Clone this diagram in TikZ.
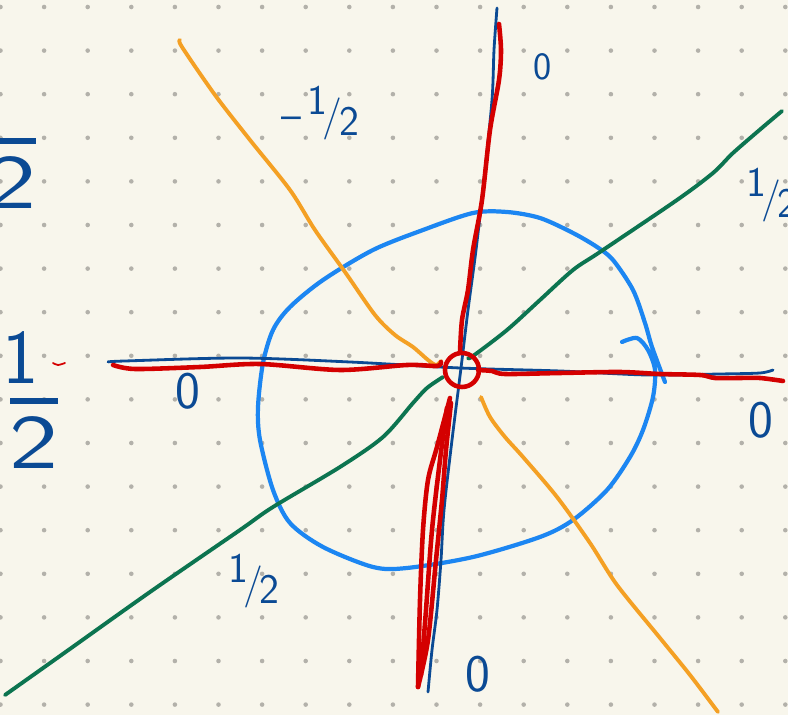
\documentclass[tikz,border=0pt]{standalone}
\usepackage{fontspec}
\usetikzlibrary{positioning}
\definecolor{paper}{HTML}{F8F6EC}
\definecolor{dotGray}{HTML}{B3B1AA}
\definecolor{inkBlue}{HTML}{0B4A94}
\definecolor{inkRed}{HTML}{D40000}
\definecolor{inkOrange}{HTML}{F4A024}
\definecolor{inkGreen}{HTML}{0C7450}
\definecolor{inkSky}{HTML}{1C86F2}
\newcommand{\hfrac}[2]{\raisebox{.35em}{#1}\kern-.12em/\kern-.08em\raisebox{-.15em}{#2}}
\newcommand{\vfrac}[3]{\shortstack{\makebox[0pt]{\kern#1 1}\\[5pt]\rule{0.62em}{0.08em}\\[4pt]\scalebox{1.35}[1]{#2}}}

\begin{document}
\begin{tikzpicture}[
  x=0.02cm, y=-0.02cm, line cap=round, line join=round,
  axis/.style={inkBlue, line width=1.6pt},
  cut/.style={inkRed, line width=2.6pt},
  level/.style={inkOrange, line width=2.2pt},
  flow/.style={inkGreen, line width=2.2pt},
  ring/.style={inkSky, line width=2.4pt},
  lab/.style={inkBlue, font=\sffamily\fontsize{30}{30}\selectfont, inner sep=0pt},
  half/.style={lab, font=\sffamily\fontsize{24}{24}\selectfont},
  bigfrac/.style={lab, font=\sffamily\fontsize{44}{48}\selectfont}
]
\path[use as bounding box, fill=paper] (0,0) rectangle (788,715);
\clip (0,0) rectangle (788,715);
\foreach \i in {0,...,18}
  \foreach \j in {0,...,16}
    \fill[dotGray] (0.5+\i*43.6, 7+\j*43.6) circle (1.3pt);

\draw[ring] plot[smooth] coordinates {(622,342) (637,338) (648,350) (655,370) (653,397) (643,430) (630,457) (607,490) (573,520) (540,537) (473,557) (407,568) (373,567) (323,547) (290,523) (273,490) (260,440) (258,407) (263,363) (273,330) (290,307) (323,280) (373,250) (423,230) (473,213) (507,212) (540,218) (573,233) (597,247) (613,260) (633,290) (645,323) (652,347) (665,382)};

\draw[level] plot[smooth] coordinates {(180,40) (182,47) (215,95) (250,140) (290,190) (315,230) (345,272) (375,315) (395,335) (413,347) (428,360) (436,365) (441,361)};
\draw[level] plot[smooth] coordinates {(481,397) (490,417) (505,437) (523,457) (557,497) (590,543) (617,585) (660,638) (690,675) (718,712)};

\draw[flow] plot[smooth] coordinates {(782,111) (763,127) (733,153) (713,173) (677,200) (600,252) (573,270) (540,300) (507,330) (473,356) (468,358)};
\draw[flow] plot[smooth] coordinates {(443,377) (427,388) (413,403) (383,437) (340,467) (273,507) (240,530) (150,592) (60,656) (5,695)};

\draw[axis] plot[smooth] coordinates {(108,362) (125,361) (240,358) (350,362) (460,368) (560,371) (647,375) (720,374) (760,373) (773,370)};
\draw[axis] plot[smooth] coordinates {(497,8) (494,50) (492,100) (484,180) (476,250) (468,310) (461,368) (452,440) (444,510) (441,560) (437,610) (432,650) (428,692)};

\draw[cut] plot[smooth] coordinates {(113,365) (135,369) (200,367) (260,364) (340,370) (407,365) (437,366) (441,362)};
\draw[cut] plot[smooth] coordinates {(478,370) (492,371) (505,374) (560,373) (620,372) (660,374) (700,375) (715,378) (740,378) (760,378) (783,381)};
\draw[cut] plot[smooth] coordinates {(499,24) (501,50) (499,80) (490,130) (482,200) (473,250) (468,290) (462,320) (460,352)};
\draw[cut] plot[smooth] coordinates {(450,398) (437,447) (428,480) (423,530) (420,600) (418,687)};
\draw[cut] plot[smooth] coordinates {(418,687) (428,640) (436,560) (442,500) (446,450) (451,403)};
\draw[cut] plot[smooth] coordinates {(447,408) (440,460) (432,530) (426,610) (421,675)};
\draw[cut] (462,370) circle[radius=17];
\draw[inkRed, line width=1pt] plot[smooth] coordinates {(53,363) (58,365) (65,363)};

\node[lab] (zeroL) at (188,391) {0};
\node[lab, font=\sffamily\fontsize{22}{22}\selectfont] (zeroT) at (543,67) {0};
\node[lab] (zeroR) at (761,420) {0};
\node[lab] (zeroB) at (478,674) {0};
\node[half] (negHalf) at (320,113) {--\,\hfrac{1}{2}};
\node[half] (halfR) at (772,195) {\hfrac{1}{2}};
\node[half] (halfB) at (254,581) {\hfrac{1}{2}};
\node[bigfrac] (halfL) at (34,400) {\vfrac{-0.34em}{2}{}};
\node[bigfrac] (halfTL) at (12,140) {\vfrac{-0.66em}{2}{}};
\end{tikzpicture}
\end{document}
